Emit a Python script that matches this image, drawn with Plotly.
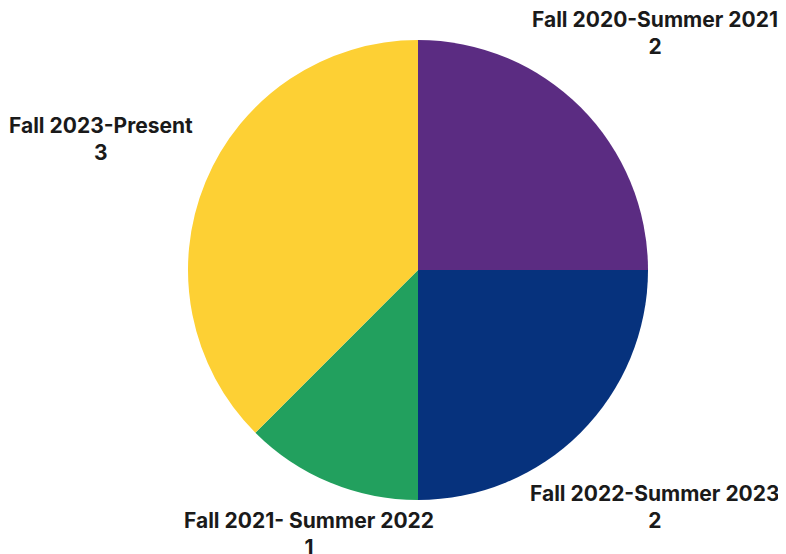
import math
import plotly.graph_objects as go

labels = ["Fall 2020-Summer 2021", "Fall 2022-Summer 2023", "Fall 2021- Summer 2022", "Fall 2023-Present"]
values = [2, 2, 1, 3]
colors = ["#5B2C82", "#06327D", "#22A05E", "#FDD034"]

W, H = 786, 554
OFF = 8                             # page body margin
CX, CY, R = 418 - OFF, 270 - OFF, 230   # pie centre / radius in figure pixels
FONT_SIZE = 21
CHAR_W = 12.1                       # approx. px per character
HALF_H = 24                         # half height of a two-line label
GAP = R + 10                        # labels clear the pie by this distance

fig = go.Figure(go.Pie(
    labels=labels,
    values=values,
    sort=False,
    direction="clockwise",
    rotation=0,
    marker=dict(colors=colors, line=dict(width=0)),
    textinfo="none",
    hoverinfo="label+value",
    showlegend=False,
    domain=dict(x=[(CX - R) / W, (CX + R) / W], y=[(H - CY - R) / H, (H - CY + R) / H]),
))

def label_dist(ux, uy, hw, hh):
    lo, hi = 0.0, 1000.0
    for _ in range(60):
        t = (lo + hi) / 2
        dx = max(abs(t * ux) - hw, 0)
        dy = max(abs(t * uy) - hh, 0)
        if math.hypot(dx, dy) < GAP:
            lo = t
        else:
            hi = t
    return (lo + hi) / 2

total = sum(values)
cum = 0
annotations = []
for lab, val in zip(labels, values):
    mid = (cum + val / 2) / total * 2 * math.pi
    cum += val
    ux, uy = math.sin(mid), -math.cos(mid)
    hw = len(lab) * CHAR_W / 2
    t = label_dist(ux, uy, hw, HALF_H)
    px, py = CX + t * ux, CY + t * uy
    annotations.append(dict(
        x=px / W, y=1 - py / H, xref="paper", yref="paper",
        xanchor="center", yanchor="middle", showarrow=False, align="center",
        text=f"<b>{lab}</b><br><b>{val}</b>",
        font=dict(family="Inter, Lato, sans-serif", size=FONT_SIZE, color="#1a1a1a"),
    ))

fig.update_layout(
    width=W, height=H,
    margin=dict(l=0, r=0, t=0, b=0),
    paper_bgcolor="white",
    plot_bgcolor="white",
    annotations=annotations,
)
fig.write_html("out.html")
